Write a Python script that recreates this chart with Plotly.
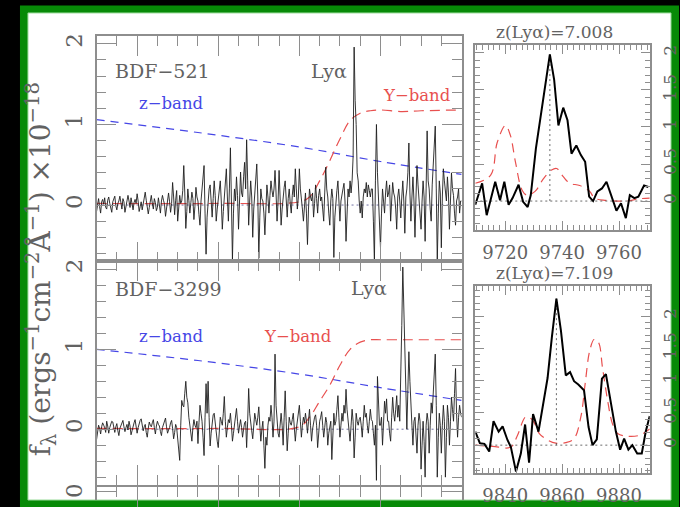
import numpy as np
import plotly.graph_objects as go

W, H = 680, 507

# ---------------- data ----------------
# observed-frame spectra, 2.5 A sampling from 9100 to 10000 A (units of 1e-18)
flux_521 = [
    -0.08, 0.03, 0.08, -0.02, -0.10, 0.04, 0.07, 0.01, 0.09, -0.03,
    -0.05, 0.06, 0.10, 0.02, -0.06, -0.09, 0.04, 0.07, 0.11, -0.01,
    -0.06, 0.02, 0.05, 0.11, 0.03, -0.05, 0.08, 0.04, -0.09, -0.02,
    0.06, 0.12, 0.05, -0.03, 0.09, 0.01, -0.06, 0.03, 0.07, 0.02,
    0.14, 0.05, -0.08, -0.02, 0.04, -0.06, 0.02, 0.10, 0.16, 0.06,
    -0.04, -0.11, -0.03, 0.07, 0.12, 0.02, -0.05, 0.08, 0.03, -0.07,
    -0.03, 0.09, 0.02, -0.10, 0.05, 0.12, 0.06, 0.01, -0.14, -0.04,
    0.08, 0.15, 0.04, -0.09, 0.02, 0.28, 0.10, -0.12, 0.06, 0.18,
    -0.20, -0.05, 0.12, 0.02, 0.05, 0.18, 0.49, 0.15, -0.29, -0.08,
    0.20, 0.06, -0.10, 0.03, 0.16, 0.08, -0.18, -0.02, 0.22, 0.10,
    0.05, -0.12, -0.25, 0.05, 0.18, 0.30, 0.49, -0.10, -0.61, -0.15,
    0.10, 0.20, 0.25, 0.02, -0.15, 0.08, 0.30, 0.12, -0.20, -0.05,
    0.08, 0.18, 0.30, 0.05, -0.30, -0.08, 0.15, 0.32, 0.45, 0.10,
    -0.20, 0.20, 0.71, 0.05, -0.68, -0.10, 0.20, 0.05, 0.35, 0.12,
    -0.30, 0.05, 0.41, 0.15, 0.10, 0.35, 0.53, 0.20, 0.81, 0.30,
    -0.25, 0.05, 0.30, 0.10, -0.40, -0.05, 0.15, 0.28, 0.51, 0.10,
    -0.66, -0.15, 0.20, 0.08, 0.05, -0.10, -0.37, -0.05, 0.25, 0.10,
    -0.10, 0.12, 0.30, 0.18, 0.10, 0.20, 0.43, 0.15, -0.20, 0.05,
    0.43, 0.10, -0.25, -0.05, 0.15, 0.22, 0.30, 0.05, -0.15, 0.08,
    0.20, 0.02, -0.10, 0.12, 0.25, 0.10, 0.45, 0.20, -0.05, 0.10,
    0.45, 0.20, 0.10, -0.05, -0.20, 0.05, 0.15, -0.10, -0.49, -0.05,
    0.20, 0.10, 0.05, 0.15, -0.15, 0.02, 0.25, 0.08, -0.10, 0.12,
    0.20, 0.05, 0.10, -0.05, -0.20, 0.15, 0.47, 0.20, 0.10, -0.10,
    -0.25, 0.05, 0.20, 0.08, -0.65, -0.15, 0.05, 0.18, 0.30, 0.10,
    -0.20, 0.05, 0.15, 0.20, 0.27, 0.05, -0.45, -0.10, 0.20, 0.10,
    0.30, 0.15, 0.30, 0.60, 1.96, 1.30, 1.00, 0.40, 0.30, 0.05,
    -0.10, 0.05, -0.16, 0.10, 0.20, 0.15, 0.28, 0.10, 0.25, 0.18,
    0.10, 0.20, 0.20, -0.20, -0.70, 0.30, 1.00, 0.40, 0.10, -0.20,
    -0.53, -0.10, 0.20, 0.05, -0.10, 0.15, 0.30, 0.10, 0.15, 0.25,
    -0.20, 0.05, 0.28, 0.15, 0.10, -0.05, -0.30, 0.10, 0.20, 0.05,
    -0.16, 0.10, 0.30, 0.05, -0.35, 0.10, 0.20, 0.40, 0.77, 0.15,
    -0.20, 0.10, 0.35, 0.05, -0.40, 0.10, 0.49, 0.25, 0.10, -0.10,
    -0.30, 0.05, 0.30, 0.10, -0.45, 0.20, 0.92, 0.30, 0.20, -0.05,
    -0.20, 0.25, 0.50, 0.60, 0.98, 0.20, -0.70, -0.10, 0.30, 0.15,
    -0.53, 0.10, 0.45, 0.30, 0.20, 0.05, 0.35, 0.15, -0.30, 0.05,
    0.40, 0.20, 0.12, -0.10, -0.25, 0.05, 0.10, 0.20, -0.10, 0.05,
    0.05,
]

flux_3299 = [
    -0.13, -0.02, 0.05, 0.01, -0.06, 0.03, 0.08, 0.05, 0.02, -0.04,
    0.10, 0.04, -0.05, 0.02, 0.06, 0.10, 0.09, 0.01, -0.04, 0.03,
    0.07, -0.02, -0.08, 0.01, 0.04, 0.09, 0.11, 0.03, -0.03, 0.02,
    0.06, -0.01, 0.10, 0.04, -0.07, -0.02, 0.05, 0.08, 0.12, 0.03,
    -0.05, 0.02, 0.08, 0.11, 0.13, 0.04, -0.02, 0.03, 0.06, -0.04,
    -0.10, 0.01, 0.09, 0.05, 0.03, 0.08, 0.12, 0.02, -0.06, 0.04,
    0.10, 0.06, 0.04, -0.03, -0.08, 0.02, 0.07, 0.11, 0.14, 0.03,
    -0.05, -0.01, 0.02, 0.08, 0.11, 0.01, -0.12, -0.04, 0.06, 0.02,
    -0.10, -0.20, -0.39, 0.05, 0.36, 0.30, 0.28, 0.45, 0.60, 0.40,
    0.33, 0.15, 0.05, -0.05, -0.15, 0.02, 0.12, 0.05, 0.02, 0.10,
    -0.18, 0.08, 0.30, 0.20, 0.10, -0.10, -0.33, 0.15, 0.57, 0.20,
    0.60, 0.15, -0.21, -0.05, 0.10, 0.18, 0.20, 0.05, -0.05, -0.15,
    -0.23, -0.05, 0.15, 0.10, 0.05, 0.20, 0.41, 0.10, -0.10, 0.02,
    0.12, 0.08, 0.20, 0.05, -0.15, -0.05, 0.05, 0.12, 0.26, 0.10,
    -0.05, 0.04, 0.12, 0.02, -0.10, 0.00, 0.08, 0.10, -0.23, 0.10,
    0.51, 0.20, 0.05, -0.02, -0.12, 0.05, 0.20, 0.12, 0.05, 0.15,
    0.28, 0.05, -0.15, 0.00, 0.10, -0.20, -0.49, -0.10, -0.20, 0.05,
    0.15, 0.10, 0.30, 0.15, -0.10, 0.10, 0.94, 0.30, 0.10, -0.05,
    -0.10, 0.10, 0.20, 0.05, -0.20, 0.15, 0.48, 0.10, -0.27, -0.05,
    0.15, 0.08, 0.05, 0.12, 0.20, 0.02, -0.15, 0.00, 0.10, 0.18,
    0.30, 0.10, -0.10, 0.05, 0.15, 0.08, 0.20, 0.10, -0.05, 0.10,
    0.25, 0.05, -0.15, 0.00, 0.10, 0.15, 0.18, 0.05, -0.23, -0.05,
    0.10, 0.15, 0.22, 0.05, -0.10, 0.02, 0.15, 0.08, -0.20, -0.05,
    0.05, 0.10, -0.38, -0.10, 0.20, 0.05, 0.10, 0.25, 0.42, 0.15,
    -0.10, 0.05, 0.20, 0.10, 0.30, 0.20, 0.50, 0.25, 0.10, 0.02,
    -0.15, 0.05, 0.25, 0.10, -0.36, -0.10, 0.20, 0.10, 0.05, 0.12,
    0.15, 0.05, -0.10, 0.10, 0.30, 0.15, 0.20, 0.05, -0.05, 0.10,
    0.25, 0.12, 0.10, -0.05, -0.20, 0.05, -0.64, 0.66, 0.20, 0.05,
    0.05, 0.15, -0.20, 0.10, 0.35, 0.20, 0.38, 0.10, 0.10, -0.05,
    -0.15, 0.15, 0.40, 0.20, 0.10, 0.25, 0.42, 0.15, 0.30, 0.10,
    0.60, 1.30, 2.03, 1.50, 1.20, 0.40, 0.00, 0.50, 0.97, 0.60,
    0.20, 0.05, -0.20, 0.10, 0.15, -0.10, -0.30, 0.05, 0.20, 0.10,
    -0.50, -0.20, 0.10, -0.15, -0.60, 0.05, 0.20, 0.10, -0.30, 0.05,
    0.33, 0.20, 0.50, 0.70, 0.94, 0.30, -0.60, -0.10, 0.20, 0.05,
    -0.30, 0.05, 0.30, 0.10, -0.60, -0.10, 0.30, 0.15, -0.20, 0.10,
    0.40, 0.25, 0.10, 0.45, 0.76, 0.20, -0.10, 0.15, 0.30, 0.20,
    0.15,
]

wave_start, wave_step = 9100.0, 2.5
wave_main = wave_start + wave_step * np.arange(len(flux_521))
assert len(flux_521) == len(flux_3299) == 361

# filter transmission curves (arbitrary scaling)
zband_wave = [9100, 9350, 9600, 9800, 10000]
zband_521 = [1.06, 0.90, 0.72, 0.54, 0.38]
zband_3299 = [1.00, 0.86, 0.69, 0.52, 0.36]

yband_wave = [9100, 9400, 9600, 9625, 9650, 9675, 9700, 9725, 9750, 9775,
              9800, 9850, 9900, 10000]
yband_521 = [0.02, 0.02, 0.04, 0.10, 0.30, 0.55, 0.82, 1.05, 1.14, 1.17,
             1.18, 1.16, 1.17, 1.18]
yband_3299 = [0.01, 0.01, 0.03, 0.15, 0.35, 0.55, 0.80, 1.00, 1.09, 1.12,
              1.12, 1.12, 1.12, 1.12]

# zoomed line profiles
zoom1_wave = [9709.5, 9711.9, 9713.5, 9716.5, 9718.2, 9719.7, 9721.2, 9722.6,
              9724.7, 9726.3, 9727.9, 9729.0, 9730.8, 9732.4, 9734.0, 9735.7,
              9737.2, 9738.7, 9740.4, 9741.9, 9743.3, 9745.0, 9746.6, 9748.1,
              9749.5, 9750.9, 9752.4, 9754.0, 9755.6, 9757.3, 9759.1, 9760.7,
              9762.4, 9763.8, 9765.4, 9766.8, 9768.8, 9770.3]
zoom1_flux = [-0.05, 0.24, -0.19, 0.26, 0.01, 0.26, -0.05, 0.04,
              0.22, -0.01, -0.08, 0.08, 0.71, 1.13, 1.57, 1.98,
              1.64, 1.02, 1.26, 1.09, 0.64, 0.75, 0.62, 0.53,
              0.06, 0.00, 0.13, 0.17, 0.26, 0.06, -0.13, -0.03,
              -0.23, 0.08, 0.04, 0.06, 0.21, 0.19]
zoom1_sky_wave = [9709.5, 9714.9, 9717.2, 9720.1, 9721.8, 9723.6, 9725.9,
                  9727.6, 9730.5, 9733.4, 9736.3, 9738.1, 9740.4, 9742.7,
                  9746.2, 9749.7, 9751.4, 9755.5, 9762.4, 9767.0, 9770.8]
zoom1_sky = [0.24, 0.35, 0.79, 1.02, 0.89, 0.53, 0.15,
             0.08, 0.13, 0.30, 0.42, 0.44, 0.33, 0.24,
             0.21, 0.13, 0.04, 0.01, 0.00, 0.03, 0.04]

zoom2_wave = [9829.5, 9831.1, 9832.7, 9834.4, 9835.9, 9837.7, 9839.1, 9840.8,
              9842.0, 9843.8, 9845.5, 9847.0, 9848.4, 9849.8, 9851.7, 9853.1,
              9854.9, 9856.4, 9858.0, 9859.6, 9861.3, 9862.8, 9864.2, 9865.7,
              9867.7, 9869.3, 9870.7, 9872.2, 9874.0, 9875.4, 9877.1, 9878.9,
              9880.4, 9881.8, 9883.3, 9884.7, 9886.4, 9888.0, 9889.4, 9890.8]
zoom2_flux = [0.21, 0.03, 0.02, -0.10, 0.37, 0.21, 0.29, 0.08,
              -0.03, -0.41, -0.13, 0.32, -0.27, 0.48, 0.21, 0.56,
              1.04, 1.67, 2.27, 1.77, 1.08, 1.13, 0.99, 0.94,
              0.85, 0.28, 0.00, 0.09, 1.03, 1.10, 0.69, 0.21,
              -0.07, 0.10, -0.07, 0.00, -0.13, -0.13, 0.21, 0.45]
zoom2_sky_wave = [9829.5, 9835.6, 9842.0, 9844.3, 9847.3, 9849.6, 9852.0,
                  9854.9, 9857.8, 9861.3, 9864.2, 9866.6, 9868.1, 9869.7,
                  9871.3, 9872.8, 9874.2, 9876.0, 9877.7, 9879.5, 9882.4,
                  9887.0, 9890.8]
zoom2_sky = [0.00, -0.02, -0.03, 0.15, 0.44, 0.39, 0.18,
             0.08, 0.03, 0.04, 0.10, 0.44, 0.95, 1.46,
             1.64, 1.59, 1.20, 0.69, 0.33, 0.18, 0.14,
             0.15, 0.25]

lya_1 = 9735.7
lya_2 = 9858.0
lya_1_peak = 1.98
lya_2_peak = 2.27

# ---------------- styling ----------------
FONT = "DejaVu Serif"
TXT = "#626262"
AX = "#8e8e8e"
BLUE = "#4646e6"
RED = "#e8504f"
SPEC = "#1e1e1e"


def px_x(x):
    return x / W


def px_y(y):
    return 1 - y / H


fig = go.Figure()

main_x = [px_x(96.7), px_x(462.3)]
inset_x = [px_x(476), px_x(650.7)]

# main spectra
for i, (flux, zb, yb) in enumerate([(flux_521, zband_521, yband_521),
                                     (flux_3299, zband_3299, yband_3299)]):
    xa = "x" if i == 0 else "x2"
    ya = "y" if i == 0 else "y2"
    fig.add_trace(go.Scatter(x=zband_wave, y=zb, mode="lines", xaxis=xa, yaxis=ya,
                             line=dict(color=BLUE, width=1.2, dash="8px,6px", shape="spline")))
    fig.add_trace(go.Scatter(x=yband_wave, y=yb, mode="lines", xaxis=xa, yaxis=ya,
                             line=dict(color=RED, width=1.2, dash="10px,6px", shape="spline")))
    fig.add_trace(go.Scatter(x=wave_main, y=flux, mode="lines", xaxis=xa, yaxis=ya,
                             line=dict(color=SPEC, width=0.9)))

# third panel: only its top strip is visible, keep it as an empty subplot
fig.add_trace(go.Scatter(x=[], y=[], mode="lines", xaxis="x3", yaxis="y3"))

# insets
for i, (w, f, sw, s, lw, lp) in enumerate([
        (zoom1_wave, zoom1_flux, zoom1_sky_wave, zoom1_sky, lya_1, lya_1_peak),
        (zoom2_wave, zoom2_flux, zoom2_sky_wave, zoom2_sky, lya_2, lya_2_peak)]):
    xa = "x4" if i == 0 else "x5"
    ya = "y4" if i == 0 else "y5"
    fig.add_trace(go.Scatter(x=sw, y=s, mode="lines", xaxis=xa, yaxis=ya,
                             line=dict(color=RED, width=1.2, dash="9px,6px", shape="spline")))
    fig.add_trace(go.Scatter(x=[w[0], w[-1]], y=[0, 0], mode="lines", xaxis=xa, yaxis=ya,
                             line=dict(color="#444444", width=0.8, dash="2px,3px")))
    fig.add_trace(go.Scatter(x=[lw, lw], y=[0, lp], mode="lines", xaxis=xa, yaxis=ya,
                             line=dict(color="#444444", width=0.8, dash="2px,3px")))
    fig.add_trace(go.Scatter(x=w, y=f, mode="lines", xaxis=xa, yaxis=ya,
                             line=dict(color="#000000", width=2)))


def axis_common():
    return dict(showline=True, linecolor=AX, linewidth=1.5, mirror="ticks",
                ticks="inside", tickcolor=AX, showgrid=False, zeroline=False,
                tickfont=dict(family=FONT, size=23, color=TXT))


# main panel axes
main_xaxis = axis_common()
main_xaxis.update(range=[9100, 10000], tick0=9200, dtick=200, ticklen=20, tickwidth=1,
                  showticklabels=False,
                  minor=dict(dtick=50, ticklen=10, tickcolor=AX, ticks="inside"))
main_yaxis = axis_common()
main_yaxis.update(range=[-0.70, 2.10], tick0=0, dtick=1, ticklen=20, tickwidth=1,
                  tickangle=-90, ticklabelstandoff=4,
                  minor=dict(dtick=0.2, ticklen=10, tickcolor=AX, ticks="inside"))

fig.update_layout(
    xaxis=dict(main_xaxis, domain=main_x, anchor="y"),
    yaxis=dict(main_yaxis, domain=[px_y(260), px_y(33)], anchor="x"),
    xaxis2=dict(main_xaxis, domain=main_x, anchor="y2"),
    yaxis2=dict(main_yaxis, domain=[px_y(485), px_y(260)], anchor="x2"),
    xaxis3=dict(main_xaxis, domain=main_x, anchor="y3", side="top", mirror=False),
    yaxis3=dict(main_yaxis, domain=[px_y(500), px_y(487)], anchor="x3",
                range=[-0.11, 0.05], showticklabels=False),
)

inset_xaxis = axis_common()
inset_xaxis.update(dtick=20, ticklen=9, tickwidth=1, ticklabelstandoff=6,
                   tickformat="d",
                   tickfont=dict(family=FONT, size=18, color=TXT),
                   minor=dict(dtick=2, ticklen=5, tickcolor=AX, ticks="inside"))
inset_yaxis = axis_common()
inset_yaxis.update(side="right", dtick=0.5, tick0=0, ticklen=9, tickwidth=1,
                   tickangle=-90, ticklabelstandoff=4,
                   tickfont=dict(family=FONT, size=17, color=TXT),
                   minor=dict(dtick=0.1, ticklen=5, tickcolor=AX, ticks="inside"))

fig.update_layout(
    xaxis4=dict(inset_xaxis, domain=inset_x, anchor="y4", range=[9709.5, 9770.8],
                tick0=9700),
    yaxis4=dict(inset_yaxis, domain=[px_y(228.3), px_y(42.7)], anchor="x4",
                range=[-0.39, 2.10]),
    xaxis5=dict(inset_xaxis, domain=inset_x, anchor="y5", range=[9829.5, 9890.8],
                tick0=9820),
    yaxis5=dict(inset_yaxis, domain=[px_y(472.7), px_y(285)], anchor="x5",
                range=[-0.43, 2.46]),
)

# zero reference lines in main panels
for ya in ["y", "y2"]:
    xa = "x" if ya == "y" else "x2"
    fig.add_shape(type="line", xref=xa, yref=ya, x0=9100, x1=10000, y0=0, y1=0,
                  line=dict(color="#4b4b8c", width=0.8, dash="2px,3px"), layer="below")

# frame
fig.add_shape(type="rect", xref="paper", yref="paper", x0=px_x(20), x1=1,
              y0=0, y1=px_y(2.5), fillcolor="#078a07", line=dict(width=0), layer="below")
fig.add_shape(type="rect", xref="paper", yref="paper", x0=px_x(28), x1=px_x(672),
              y0=px_y(500), y1=px_y(10), fillcolor="#ffffff",
              line=dict(color="#93d893", width=1), layer="below")


def label(text, x, y, color=TXT, size=19, xanchor="left", angle=0):
    fig.add_annotation(text=text, x=px_x(x), y=px_y(y), xref="paper", yref="paper",
                       xanchor=xanchor, yanchor="middle", showarrow=False,
                       textangle=angle, font=dict(family=FONT, size=size, color=color))


label("BDF−521", 113, 68)
label("Lyα", 309, 68)
label("z−band", 137, 101, BLUE, 16.5)
label("Y−band", 382, 93, RED, 16.5)
label("BDF−3299", 113, 288)
label("Lyα", 350, 287)
label("z−band", 137, 335, BLUE, 16.5)
label("Y−band", 262, 335, RED, 16.5)
label("z(Lyα)=7.008", 555, 29, size=17, xanchor="center")
label("z(Lyα)=7.109", 555, 272, size=17, xanchor="center")
label("0", 74, 490, size=23, xanchor="center", angle=-90)
label("f<sub>λ</sub> (ergs<sup>−1</sup>cm<sup>−2</sup>Å<sup>−1</sup>) ×10<sup>−18</sup>",
      41, 268, size=28, xanchor="center", angle=-90)

fig.update_layout(
    width=W, height=H, margin=dict(l=0, r=0, t=0, b=0),
    paper_bgcolor="#000000", plot_bgcolor="#ffffff",
    showlegend=False,
)

fig.write_html("out.html")
